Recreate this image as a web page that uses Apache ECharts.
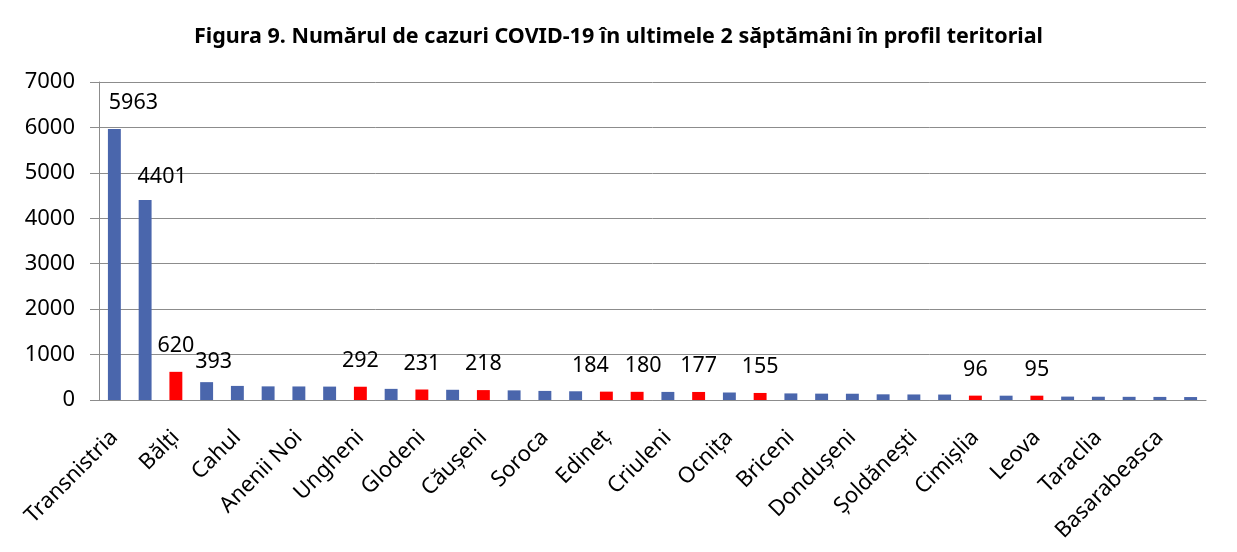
<!DOCTYPE html>
<html lang="ro">

<head>
    <meta charset="UTF-8">
    <script src="https://cdn.jsdelivr.net/npm/echarts@6/dist/echarts.min.js"></script>
    <title>Figura 9</title>
</head>
<style>
    html, body {
        margin: 0;
        padding: 0;
        background: #fff;
    }
</style>

<body>
    <div id="main" style="width: 1237px;height:552px;"></div>
</body>
<script>
    // date: numarul de cazuri in ultimele 2 saptamani, pe teritorii
    let categories = [
        'Transnistria', 'Chișinău', 'Bălți', 'Orhei', 'Cahul', 'Hîncești',
        'Anenii Noi', 'Ialoveni', 'Ungheni', 'UTA Găgăuzia', 'Glodeni', 'Strășeni',
        'Căușeni', 'Fălești', 'Soroca', 'Sîngerei', 'Edineț', 'Florești',
        'Criuleni', 'Drochia', 'Ocnița', 'Rîșcani', 'Briceni', 'Nisporeni',
        'Dondușeni', 'Telenești', 'Șoldănești', 'Rezina', 'Cimișlia', 'Ștefan Vodă',
        'Leova', 'Cantemir', 'Taraclia', 'Dubăsari', 'Basarabeasca', 'Călărași'
    ];
    let cases = [
        5963, 4401, 620, 393, 310, 300,
        298, 295, 292, 245, 231, 225,
        218, 212, 200, 192, 184, 180,
        178, 177, 165, 155, 145, 140,
        138, 125, 122, 120, 96, 95,
        95, 75, 72, 70, 68, 65
    ];
    // teritoriile marcate cu rosu
    let marked = [
        'Bălți', 'Ungheni', 'Glodeni', 'Căușeni', 'Edineț',
        'Florești', 'Drochia', 'Rîșcani', 'Cimișlia', 'Leova'
    ];
    let yTicks = [0, 1000, 2000, 3000, 4000, 5000, 6000, 7000];

    // mici deplasari ale etichetelor, ca in original
    let nudge = { 0: [19, 0], 1: [17, 3], 3: [7, 6], 16: [-16, 0], 17: [6, 0] };

    let font = '"Noto Sans", "DejaVu Sans", sans-serif';
    let barData = cases.map((v, i) => {
        let isRed = marked.includes(categories[i]);
        return {
            value: v,
            itemStyle: { color: isRed ? '#ff0000' : '#4a66ac' },
            label: {
                show: isRed || i < 4,
                offset: nudge[i] || [0, 0]
            }
        };
    });

    let myChart = echarts.init(document.getElementById('main'));
    let option = {
        backgroundColor: '#fff',
        animation: false,
        title: {
            text: 'Figura 9. Numărul de cazuri COVID-19 în ultimele 2 săptămâni în profil teritorial',
            left: 'center',
            top: 21,
            textStyle: {
                fontFamily: font,
                fontSize: 21.5,
                fontWeight: 'bold',
                color: '#000'
            }
        },
        grid: {
            left: 99,
            right: 31,
            top: 82,
            bottom: 152
        },
        xAxis: {
            type: 'category',
            data: categories,
            axisLine: { lineStyle: { color: '#8c8c8c', width: 1 } },
            axisTick: { interval: 0, length: 7, lineStyle: { color: '#8c8c8c' } },
            axisLabel: {
                interval: 1,
                rotate: 45,
                margin: 34,
                fontFamily: font,
                fontSize: 22,
                color: '#000'
            }
        },
        yAxis: {
            type: 'value',
            min: yTicks[0],
            max: yTicks[yTicks.length - 1],
            interval: 1000,
            axisLine: { show: true, lineStyle: { color: '#8c8c8c', width: 1 } },
            axisTick: { show: true, length: 9, lineStyle: { color: '#8c8c8c' } },
            splitLine: { lineStyle: { color: '#8c8c8c', width: 1 } },
            axisLabel: {
                margin: 24,
                formatter: v => String(v),
                fontFamily: font,
                fontSize: 22,
                color: '#000'
            }
        },
        series: [
            {
                type: 'bar',
                data: barData,
                barWidth: '42%',
                label: {
                    position: 'top',
                    distance: 15,
                    fontFamily: font,
                    fontSize: 21.5,
                    color: '#000'
                }
            }
        ]
    };

    myChart.setOption(option);
</script>

</html>
